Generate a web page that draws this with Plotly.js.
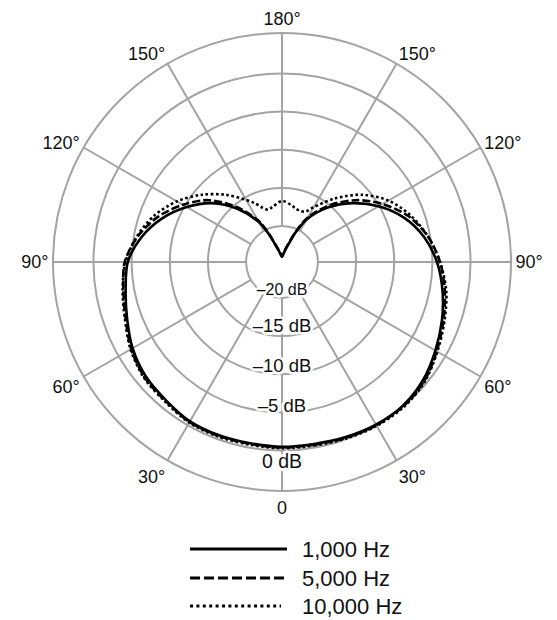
<!DOCTYPE html>
<html>
<head>
<meta charset="utf-8">
<script src="https://cdn.plot.ly/plotly-3.0.1.min.js"></script>
<style>
html,body{margin:0;padding:0;background:#fff;}
#chart{width:557px;height:620px;}
</style>
</head>
<body>
<div id="chart"></div>
<script>
// ---- data (angle in degrees, 0 = front/bottom; response in dB) ----
const theta = [0,10,20,30,40,50,60,70,80,90,100,110,120,130,140,150,155,160,165,170,180,
               190,195,200,205,210,220,230,240,250,260,270,280,290,300,310,320,330,340,350,360];

const hz1000 = [-0.5,-0.5,-0.3,-0.1,-0.1,-0.6,-1.5,-2.4,-3.35,-4.4,-5.8,-7.7,-10.1,-12.7,-15.4,-18.3,-20.3,-22.2,-23.1,-23.6,-24.0,
                -23.7,-23.3,-22.6,-20.8,-18.7,-15.6,-12.7,-10.3,-8.0,-6.0,-4.5,-3.9,-3.1,-2.1,-1.4,-1.05,-0.6,-0.55,-0.6,-0.5];

const hz5000 = [-0.4,-0.4,-0.2,0.0,0.0,-0.4,-1.3,-2.2,-3.05,-4.0,-5.3,-7.1,-9.5,-12.1,-15.0,-18.0,-20.1,-22.0,-22.9,-23.5,-24.0,
                -23.6,-23.1,-22.4,-20.6,-18.4,-15.2,-12.1,-9.7,-7.4,-5.5,-4.1,-3.6,-2.9,-1.9,-1.2,-0.95,-0.5,-0.45,-0.5,-0.4];

const hz10000 = [-0.3,-0.3,-0.1,0.1,0.1,-0.3,-1.2,-2.05,-2.85,-4.0,-5.3,-6.8,-8.6,-11.0,-13.8,-16.4,-17.4,-17.6,-17.5,-17.2,-16.7,
                 -17.4,-17.6,-17.1,-16.2,-15.3,-13.2,-11.0,-8.8,-6.9,-5.4,-4.2,-3.5,-2.8,-1.8,-1.1,-0.85,-0.4,-0.35,-0.4,-0.3];

const seriesNames = ['1,000 Hz', '5,000 Hz', '10,000 Hz'];

// ---- axis ticks ----
const angleTickVals = [0,30,60,90,120,150,180,210,240,270,300,330];
const angleTickText = ['0','30°','60°','90°','120°','150°','180°','150°','120°','90°','60°','30°'];
const dbTickVals = [-20,-15,-10,-5,0];
const dbTickText = ['\u201320 dB','\u201315 dB','\u201310 dB','\u20135 dB','0 dB'];

// ---- layout helpers (positions / styles) ----
const dbLabelR = [-20.9,-16.2,-10.9,-5.6,1.6];
const dbLabelSize = [16,18.5,18.5,18.5,19.5];
const rMin = -24.7, rMax = 5.3;
const gridColor = '#a3a3a3';
const inkColor = '#111';
const fontFam = '"Liberation Sans", Arial, Helvetica, sans-serif';
const styles = [
  {dash:'solid', legendDash:'solid', width:2.6},
  {dash:'8px,3px', legendDash:'10px,4px', width:2.6},
  {dash:'2.6px,2.6px', legendDash:'3px,3.4px', width:2.6}
];
const seriesData = [hz1000, hz5000, hz10000];

// spokes (angular grid) from the innermost ring to the rim
const spokeR = [], spokeT = [];
angleTickVals.forEach(a => { spokeR.push(-20, rMax, null); spokeT.push(a, a, null); });

const traces = [];
traces.push({
  type:'scatterpolar', mode:'lines', r:spokeR, theta:spokeT,
  line:{color:gridColor, width:2}, hoverinfo:'skip', showlegend:false
});
traces.push({
  type:'scatterpolar', mode:'text', r:dbLabelR, theta:dbLabelR.map(() => 0),
  text:dbTickText, textposition:'middle center',
  textfont:{family:fontFam, size:dbLabelSize, color:inkColor,
    shadow:'2px 0 0 #fff, -2px 0 0 #fff, 0 2px 0 #fff, 0 -2px 0 #fff, 2px 2px 0 #fff, -2px 2px 0 #fff, 2px -2px 0 #fff, -2px -2px 0 #fff, 3px 0 1px #fff, -3px 0 1px #fff, 0 3px 1px #fff, 0 -3px 1px #fff'},
  hoverinfo:'skip', showlegend:false
});
// draw 10k, 5k, then 1k on top
[2,1,0].forEach(i => {
  traces.push({
    type:'scatterpolar', mode:'lines', name:seriesNames[i],
    r:seriesData[i], theta:theta,
    line:{color:'#000', width:styles[i].width, dash:styles[i].dash, shape:'spline', smoothing:0.9},
    hoverinfo:'skip', showlegend:false
  });
});

// legend drawn below the plot
const W = 557, H = 620;
const legRowsY = [549, 578, 606];
const legX0 = 190, legX1 = 287, legTextX = 300;
const shapes = [], annotations = [];
seriesNames.forEach((name, i) => {
  const yp = 1 - legRowsY[i] / H;
  shapes.push({type:'line', xref:'paper', yref:'paper',
    x0:legX0 / W, x1:(i === 2 ? 281 : legX1) / W, y0:yp, y1:yp,
    line:{color:'#000', width:2.8, dash:styles[i].legendDash}});
  annotations.push({xref:'paper', yref:'paper', x:legTextX / W, y:yp,
    xanchor:'left', yanchor:'middle', showarrow:false, text:name,
    font:{family:fontFam, size:22, color:inkColor}});
});

const cx = 282, cy = 262, R = 229;
const layout = {
  width:W, height:H,
  margin:{l:0, r:0, t:0, b:0},
  paper_bgcolor:'#fff',
  showlegend:false,
  font:{family:fontFam, color:inkColor},
  polar:{
    domain:{x:[(cx - R) / W, (cx + R) / W], y:[(H - cy - R) / H, (H - cy + R) / H]},
    bgcolor:'#fff',
    angularaxis:{
      rotation:-90, direction:'counterclockwise',
      tickmode:'array', tickvals:angleTickVals, ticktext:angleTickText,
      showgrid:false, ticks:'', showline:true, linecolor:gridColor, linewidth:2,
      tickfont:{family:fontFam, size:18, color:inkColor}
    },
    radialaxis:{
      range:[rMin, rMax], tickmode:'array', tickvals:dbTickVals,
      showticklabels:false, ticks:'', showline:false,
      gridcolor:gridColor, gridwidth:2
    }
  },
  shapes:shapes, annotations:annotations,
  hovermode:false, dragmode:false
};

Plotly.newPlot('chart', traces, layout, {displayModeBar:false, staticPlot:true});
</script>
</body>
</html>
